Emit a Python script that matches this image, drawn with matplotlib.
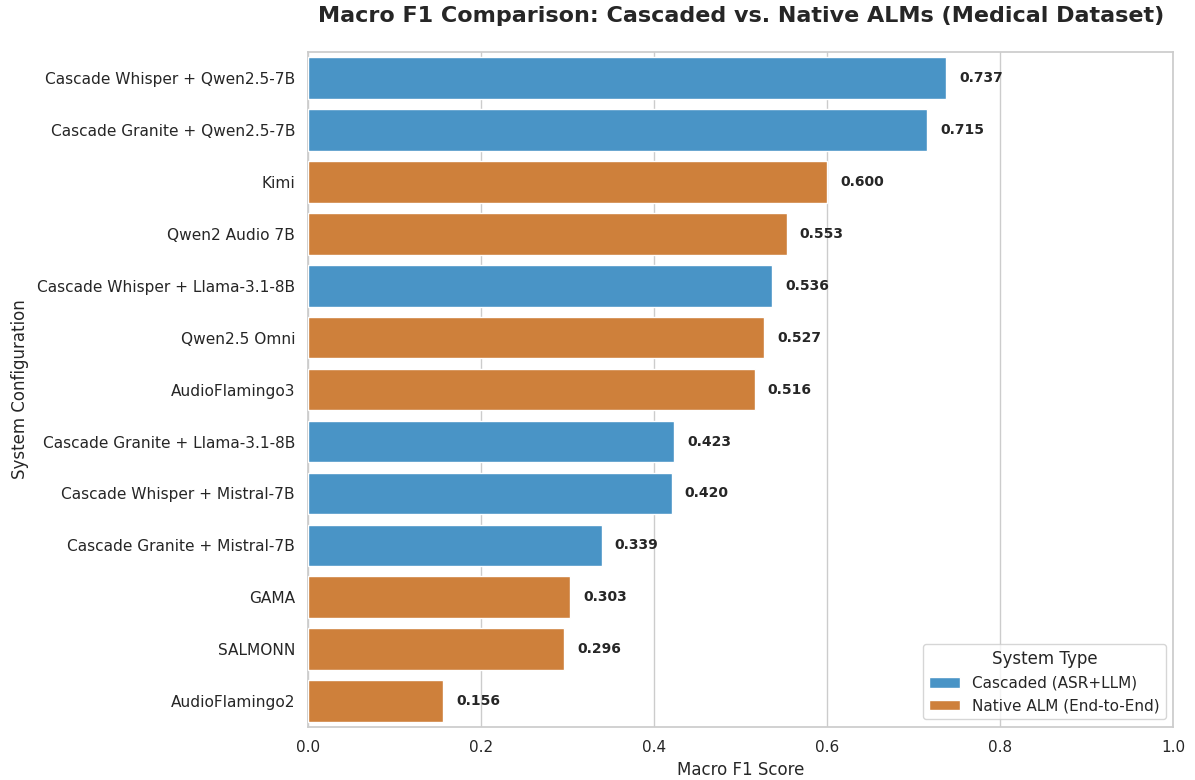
import matplotlib
matplotlib.use('Agg')
import matplotlib.pyplot as plt
import seaborn as sns
from matplotlib.patches import Patch

# data
systems = [
    'Cascade Whisper + Qwen2.5-7B',
    'Cascade Granite + Qwen2.5-7B',
    'Kimi',
    'Qwen2 Audio 7B',
    'Cascade Whisper + Llama-3.1-8B',
    'Qwen2.5 Omni',
    'AudioFlamingo3',
    'Cascade Granite + Llama-3.1-8B',
    'Cascade Whisper + Mistral-7B',
    'Cascade Granite + Mistral-7B',
    'GAMA',
    'SALMONN',
    'AudioFlamingo2',
]
scores = [0.737, 0.715, 0.600, 0.553, 0.536, 0.527, 0.516,
          0.423, 0.420, 0.339, 0.303, 0.296, 0.156]
types = ['Cascaded (ASR+LLM)', 'Cascaded (ASR+LLM)', 'Native ALM (End-to-End)',
         'Native ALM (End-to-End)', 'Cascaded (ASR+LLM)', 'Native ALM (End-to-End)',
         'Native ALM (End-to-End)', 'Cascaded (ASR+LLM)', 'Cascaded (ASR+LLM)',
         'Cascaded (ASR+LLM)', 'Native ALM (End-to-End)', 'Native ALM (End-to-End)',
         'Native ALM (End-to-End)']
type_order = ['Cascaded (ASR+LLM)', 'Native ALM (End-to-End)']

sns.set_theme(style='whitegrid')
palette = {
    'Cascaded (ASR+LLM)': sns.desaturate('#3498db', 0.75),
    'Native ALM (End-to-End)': sns.desaturate('#e67e22', 0.75),
}

fig = plt.figure(figsize=(11.95, 7.8), dpi=100)
ax = fig.add_axes([0.258, 0.068, 0.724, 0.865])

y = list(range(len(systems)))
colors = [palette[t] for t in types]
ax.barh(y, scores, height=0.8, color=colors, zorder=3)

for yi, v in zip(y, scores):
    ax.text(v + 0.015, yi, f'{v:.3f}', va='center', ha='left',
            fontsize=10, fontweight='bold', color='#262626')

ax.set_yticks(y)
ax.set_yticklabels(systems, fontsize=11.1)
ax.set_ylim(len(systems) - 0.5, -0.5)
ax.set_xlim(0, 1.0)
ax.tick_params(axis='x', labelsize=11)
ax.set_xlabel('Macro F1 Score', fontsize=12)
ax.set_ylabel('System Configuration', fontsize=12, labelpad=6)
ax.yaxis.grid(False)
ax.set_axisbelow(True)
fig.suptitle('Macro F1 Comparison: Cascaded vs. Native ALMs (Medical Dataset)',
             fontsize=16, fontweight='bold', x=0.62, y=0.992)

handles = [Patch(facecolor=palette[t]) for t in type_order]
ax.legend(handles, type_order, title='System Type', loc='lower right',
          fontsize=11, title_fontsize=12)

fig.savefig('out.png', dpi=100)
